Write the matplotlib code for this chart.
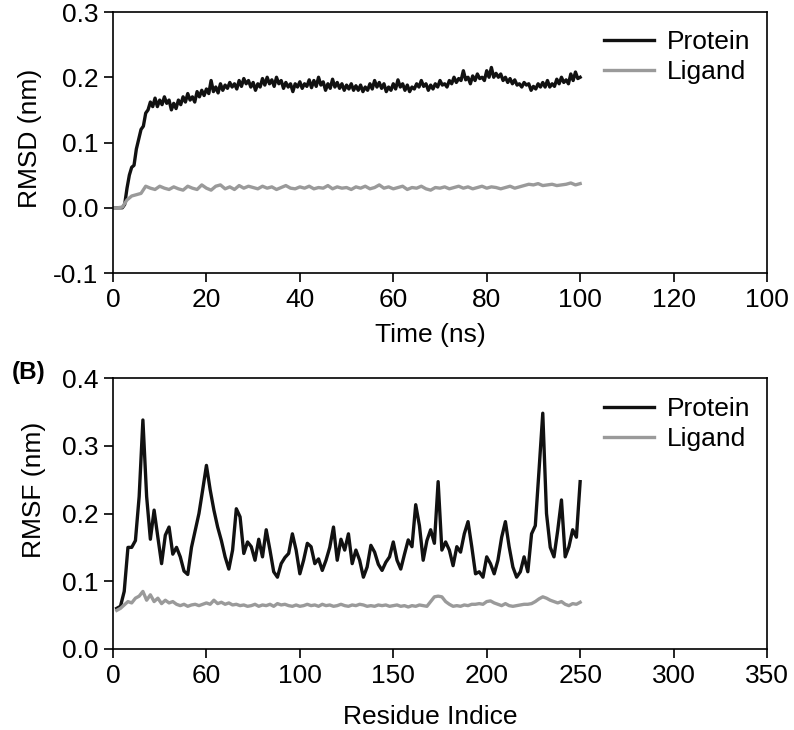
import numpy as np
import matplotlib
matplotlib.use("Agg")
import matplotlib.pyplot as plt

plt.rcParams['font.family'] = ['Liberation Sans', 'DejaVu Sans']

# (A) RMSD vs time, protein every 0.5 ns, ligand every 1 ns
rmsd_protein = [
    0.000, 0.000, 0.000, 0.000, 0.000, 0.005, 0.030, 0.050, 0.062, 0.065,
    0.090, 0.105, 0.120, 0.125, 0.145, 0.150, 0.162, 0.155, 0.168, 0.155,
    0.165, 0.158, 0.170, 0.160, 0.165, 0.150, 0.160, 0.152, 0.165, 0.158,
    0.170, 0.162, 0.175, 0.165, 0.170, 0.162, 0.178, 0.170, 0.180, 0.172,
    0.182, 0.175, 0.195, 0.178, 0.185, 0.176, 0.190, 0.180, 0.188, 0.183,
    0.192, 0.185, 0.190, 0.182, 0.195, 0.186, 0.198, 0.190, 0.195, 0.185,
    0.192, 0.180, 0.190, 0.185, 0.198, 0.188, 0.200, 0.190, 0.196, 0.186,
    0.200, 0.190, 0.195, 0.183, 0.192, 0.185, 0.190, 0.178, 0.190, 0.185,
    0.193, 0.183, 0.190, 0.186, 0.196, 0.184, 0.195, 0.186, 0.200, 0.188,
    0.193, 0.180, 0.190, 0.183, 0.197, 0.185, 0.192, 0.183, 0.190, 0.180,
    0.188, 0.182, 0.190, 0.180, 0.187, 0.180, 0.188, 0.178, 0.185, 0.180,
    0.190, 0.182, 0.195, 0.185, 0.192, 0.183, 0.190, 0.178, 0.185, 0.180,
    0.190, 0.182, 0.196, 0.185, 0.190, 0.180, 0.188, 0.178, 0.185, 0.182,
    0.190, 0.185, 0.195, 0.186, 0.190, 0.180, 0.188, 0.182, 0.190, 0.185,
    0.195, 0.188, 0.190, 0.185, 0.195, 0.190, 0.200, 0.192, 0.198, 0.195,
    0.210, 0.196, 0.200, 0.190, 0.202, 0.195, 0.205, 0.198, 0.200, 0.195,
    0.210, 0.200, 0.215, 0.200, 0.206, 0.200, 0.205, 0.195, 0.200, 0.192,
    0.198, 0.190, 0.196, 0.188, 0.190, 0.185, 0.192, 0.188, 0.190, 0.180,
    0.186, 0.182, 0.190, 0.185, 0.192, 0.185, 0.195, 0.185, 0.190, 0.186,
    0.197, 0.190, 0.200, 0.192, 0.196, 0.190, 0.205, 0.195, 0.208, 0.198,
    0.200,
]
rmsd_ligand = [
    0.000, 0.000, 0.001, 0.012, 0.018, 0.020, 0.022, 0.033, 0.030, 0.028,
    0.033, 0.030, 0.028, 0.032, 0.029, 0.027, 0.033, 0.030, 0.028, 0.035,
    0.030, 0.027, 0.033, 0.035, 0.029, 0.032, 0.028, 0.034, 0.030, 0.033,
    0.031, 0.029, 0.033, 0.030, 0.032, 0.028, 0.031, 0.034, 0.030, 0.029,
    0.032, 0.030, 0.033, 0.029, 0.031, 0.030, 0.034, 0.029, 0.032, 0.030,
    0.031, 0.028, 0.032, 0.030, 0.033, 0.029, 0.031, 0.035, 0.030, 0.032,
    0.029, 0.031, 0.033, 0.028, 0.031, 0.030, 0.033, 0.029, 0.027, 0.031,
    0.030, 0.032, 0.029, 0.031, 0.033, 0.030, 0.032, 0.029, 0.031, 0.033,
    0.030, 0.032, 0.031, 0.029, 0.031, 0.033, 0.030, 0.032, 0.034, 0.036,
    0.035, 0.037, 0.034, 0.035, 0.036, 0.034, 0.035, 0.036, 0.038, 0.035,
    0.037,
]
time_protein = np.arange(len(rmsd_protein)) * 0.5
time_ligand = np.arange(len(rmsd_ligand)) * 1.0

# (B) RMSF per residue (every 2nd residue, 2..250)
rmsf_protein = [
    0.060, 0.063, 0.085, 0.150, 0.150, 0.160, 0.225, 0.338, 0.225, 0.162,
    0.205, 0.165, 0.126, 0.168, 0.180, 0.140, 0.150, 0.136, 0.115, 0.110,
    0.150, 0.175, 0.200, 0.235, 0.271, 0.235, 0.205, 0.180, 0.160, 0.136,
    0.118, 0.146, 0.207, 0.195, 0.141, 0.158, 0.151, 0.131, 0.162, 0.136,
    0.176, 0.146, 0.114, 0.106, 0.126, 0.135, 0.141, 0.170, 0.146, 0.111,
    0.131, 0.156, 0.151, 0.126, 0.133, 0.116, 0.131, 0.150, 0.180, 0.131,
    0.162, 0.146, 0.170, 0.126, 0.146, 0.131, 0.106, 0.121, 0.153, 0.143,
    0.125, 0.116, 0.128, 0.136, 0.158, 0.131, 0.118, 0.140, 0.161, 0.151,
    0.213, 0.182, 0.131, 0.160, 0.176, 0.156, 0.247, 0.146, 0.158, 0.146,
    0.123, 0.151, 0.143, 0.170, 0.188, 0.151, 0.111, 0.114, 0.106, 0.136,
    0.126, 0.111, 0.131, 0.165, 0.188, 0.151, 0.121, 0.106, 0.114, 0.136,
    0.114, 0.170, 0.182, 0.264, 0.348, 0.200, 0.150, 0.136, 0.175, 0.220,
    0.136, 0.151, 0.176, 0.165, 0.247,
]
rmsf_ligand = [
    0.057, 0.060, 0.065, 0.070, 0.068, 0.075, 0.078, 0.085, 0.072, 0.080,
    0.070, 0.075, 0.067, 0.072, 0.068, 0.070, 0.066, 0.064, 0.066, 0.063,
    0.065, 0.066, 0.064, 0.066, 0.068, 0.066, 0.072, 0.067, 0.069, 0.066,
    0.068, 0.065, 0.066, 0.064, 0.065, 0.063, 0.064, 0.066, 0.063, 0.065,
    0.064, 0.066, 0.063, 0.067, 0.065, 0.066, 0.064, 0.063, 0.065, 0.063,
    0.064, 0.066, 0.064, 0.065, 0.063, 0.066, 0.064, 0.065, 0.063, 0.064,
    0.066, 0.064, 0.063, 0.065, 0.064, 0.066, 0.065, 0.063, 0.064, 0.063,
    0.065, 0.064, 0.065, 0.063, 0.064, 0.065, 0.063, 0.064, 0.062, 0.064,
    0.063, 0.065, 0.064, 0.063, 0.070, 0.077, 0.078, 0.077, 0.070, 0.066,
    0.063, 0.064, 0.063, 0.065, 0.064, 0.066, 0.066, 0.067, 0.066, 0.070,
    0.071, 0.068, 0.066, 0.064, 0.067, 0.064, 0.063, 0.064, 0.065, 0.066,
    0.066, 0.067, 0.070, 0.074, 0.077, 0.075, 0.072, 0.070, 0.068, 0.070,
    0.066, 0.064, 0.067, 0.066, 0.069,
]
residues = 2 + 2 * np.arange(len(rmsf_protein))

# tick labels as printed in the figure
time_ticks = [0, 20, 40, 60, 80, 100, 120, 140]
time_ticklabels = ['0', '20', '40', '60', '80', '100', '120', '100']
res_ticks = [0, 50, 100, 150, 200, 250, 300, 350]
res_ticklabels = ['0', '60', '100', '150', '200', '250', '300', '350']

PROT = '#111111'
LIG = '#9a9a9a'
FS = 19

fig = plt.figure(figsize=(7.94, 7.30), dpi=100)
W, H = 794, 730


def make_axes(left, top, right, bottom):
    return fig.add_axes([left / W, 1 - bottom / H, (right - left) / W, (bottom - top) / H])


def style(ax):
    for s in ax.spines.values():
        s.set_linewidth(1.2)
    ax.tick_params(direction='out', length=6.5, width=1.2, pad=4, labelsize=FS,
                   top=False, right=False)


ax1 = make_axes(113, 12, 767, 273)
ax1.plot(time_protein, rmsd_protein, color=PROT, lw=2.4, label='Protein')
ax1.plot(time_ligand, rmsd_ligand, color=LIG, lw=2.4, label='Ligand')
ax1.set_xlim(0, 140)
ax1.set_ylim(-0.1, 0.3)
ax1.set_xticks(time_ticks)
ax1.set_xticklabels(time_ticklabels)
ax1.set_yticks([-0.1, 0.0, 0.1, 0.2, 0.3])
ax1.set_yticklabels(['-0.1', '0.0', '0.1', '0.2', '0.3'])
ax1.set_xlabel('Time (ns)', fontsize=FS)
ax1.set_ylabel('RMSD (nm)', fontsize=FS)
ax1.xaxis.set_label_coords(0.485, -0.19)
ax1.yaxis.set_label_coords(-0.108, 0.517)
style(ax1)
ax1.legend(loc='upper right', bbox_to_anchor=(0.975, 0.93), frameon=False,
           fontsize=FS, handlelength=1.9, handletextpad=0.5,
           labelspacing=0.22, borderpad=0, borderaxespad=0)

ax2 = make_axes(113, 378, 767, 649)
ax2.plot(residues, rmsf_protein, color=PROT, lw=2.4, label='Protein')
ax2.plot(residues, rmsf_ligand, color=LIG, lw=2.4, label='Ligand')
ax2.set_xlim(0, 350)
ax2.set_ylim(0, 0.4)
ax2.set_xticks(res_ticks)
ax2.set_xticklabels(res_ticklabels)
ax2.set_yticks([0.0, 0.1, 0.2, 0.3, 0.4])
ax2.set_yticklabels(['0.0', '0.1', '0.2', '0.3', '0.4'])
ax2.set_xlabel('Residue Indice', fontsize=FS)
ax2.set_ylabel('RMSF (nm)', fontsize=FS)
ax2.xaxis.set_label_coords(0.485, -0.207)
ax2.yaxis.set_label_coords(-0.103, 0.587)
style(ax2)
ax2.legend(loc='upper right', bbox_to_anchor=(0.975, 0.93), frameon=False,
           fontsize=FS, handlelength=1.9, handletextpad=0.5,
           labelspacing=0.22, borderpad=0, borderaxespad=0)

fig.text(12 / W, 1 - 372 / H, '(B)', fontsize=17.5, fontweight='bold',
         ha='left', va='center')

fig.savefig('out.png', dpi=100)
